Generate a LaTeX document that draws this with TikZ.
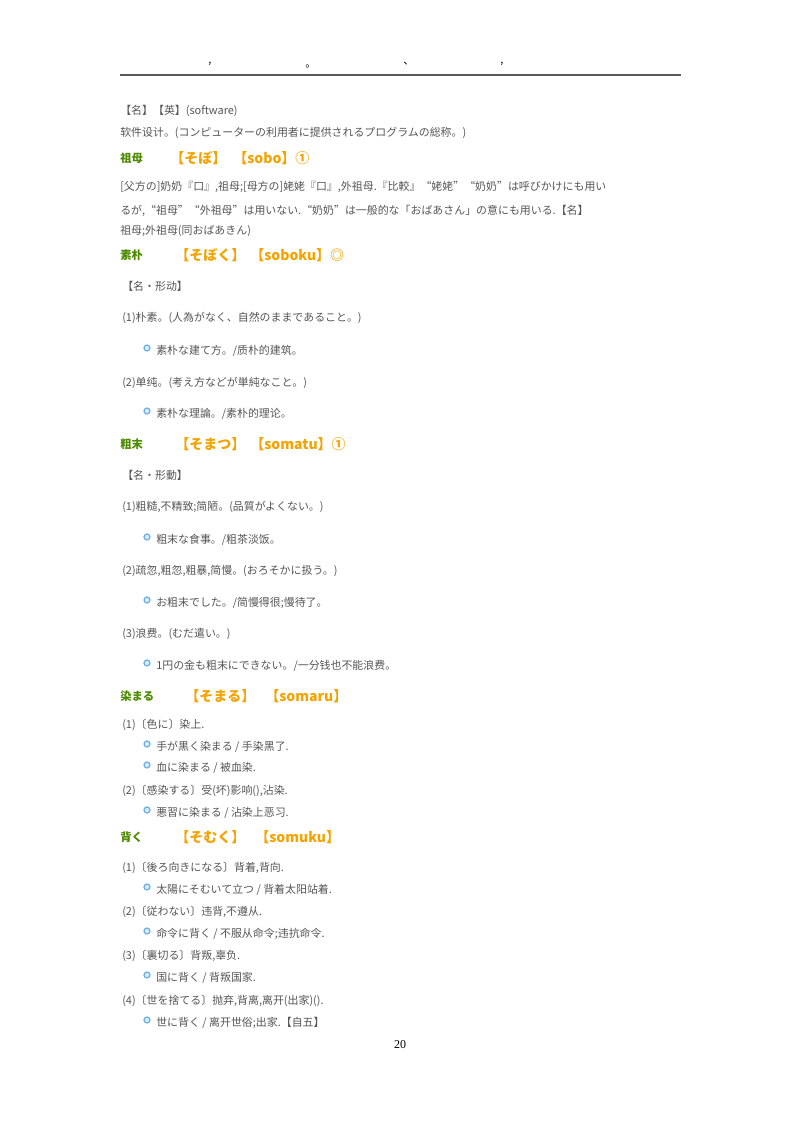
\documentclass[tikz,border=0pt]{standalone}
\usepackage{fontspec}
\setmainfont{Noto Sans CJK SC}
\newfontfamily\serifnum{Liberation Serif}
\definecolor{txt}{HTML}{555555}
\definecolor{hw}{HTML}{4E8A00}
\definecolor{kana}{HTML}{F5A300}
\definecolor{bul}{HTML}{6AB0E8}
\tikzset{
 body/.style={anchor=west,inner sep=0pt,text=txt,font=\fontsize{8.2}{10}\selectfont},
 hword/.style={anchor=west,inner sep=0pt,text=hw,font=\fontsize{8.5}{10}\selectfont\bfseries},
 reading/.style={anchor=west,inner sep=0pt,text=kana,font=\fontsize{10.5}{12}\selectfont\bfseries},
 dot/.style={circle,draw=bul,fill=bul!25,line width=0.9pt,minimum size=4.5pt,inner sep=0pt},
}
\begin{document}
\begin{tikzpicture}[x=0.75pt,y=-0.75pt]
\useasboundingbox (0,0) rectangle (800,1132);
\fill[white] (0,0) rectangle (800,1132);
% header
\coordinate (rl) at (120,75); \coordinate (rr) at (681,75);
\draw[line width=1pt,black!65] (rl) -- (rr);
\node[body,text=black] (h1) at (208,64) {,};
\node[body,text=black] (h2) at (305,66) {。};
\node[body,text=black] (h3) at (403,64) {、};
\node[body,text=black] (h4) at (500,64) {,};
% entries
\node[body] (a1) at (120,111) {【名】【英】(software)};
\node[body] (a2) at (120,133) {软件设计。(コンピューターの利用者に提供されるプログラムの総称。)};
\node[hword] (s1) at (120,158) {祖母};
\node[reading] (s1r) at (170,158) {【そぼ】};
\node[reading] (s1s) at (233,158) {【sobo】①};
\node[body] (b1) at (120,187) {[父方の]奶奶『口』,祖母;[母方の]姥姥『口』,外祖母.『比較』“姥姥”“奶奶”は呼びかけにも用い};
\node[body] (b2) at (120,211) {るが,“祖母”“外祖母”は用いない.“奶奶”は一般的な「おばあさん」の意にも用いる.【名】};
\node[body] (b3) at (120,231) {祖母;外祖母(同おばあきん)};
\node[hword] (s2) at (120,255) {素朴};
\node[reading] (s2r) at (175,255) {【そぼく】};
\node[reading] (s2s) at (250,255) {【soboku】◎};
\node[body] (c1) at (122,286) {【名・形动】};
\node[body] (c2) at (122,318) {(1)朴素。(人為がなく、自然のままであること。)};
\node[dot] (d1) at (147,348) {}; \node[body] (c3) at (156,351) {素朴な建て方。/质朴的建筑。};
\node[body] (c4) at (122,383) {(2)单纯。(考え方などが単純なこと。)};
\node[dot] (d2) at (147,411) {}; \node[body] (c5) at (156,414) {素朴な理論。/素朴的理论。};
\node[hword] (s3) at (120,444) {粗末};
\node[reading] (s3r) at (175,444) {【そまつ】};
\node[reading] (s3s) at (250,444) {【somatu】①};
\node[body] (e1) at (122,475) {【名·形動】};
\node[body] (e2) at (122,507) {(1)粗糙,不精致;简陋。(品質がよくない。)};
\node[dot] (d3) at (147,537) {}; \node[body] (e3) at (156,540) {粗末な食事。/粗茶淡饭。};
\node[body] (e4) at (122,571) {(2)疏忽,粗忽,粗暴,简慢。(おろそかに扱う。)};
\node[dot] (d4) at (147,600) {}; \node[body] (e5) at (156,603) {お粗末でした。/简慢得很;慢待了。};
\node[body] (e6) at (122,634) {(3)浪费。(むだ遣い。)};
\node[dot] (d5) at (147,663) {}; \node[body] (e7) at (156,666) {1円の金も粗末にできない。/一分钱也不能浪费。};
\node[hword] (s4) at (120,696) {染まる};
\node[reading] (s4r) at (185,696) {【そまる】};
\node[reading] (s4s) at (265,696) {【somaru】};
\node[body] (f1) at (122,725) {(1)〔色に〕染上.};
\node[dot] (d6) at (147,744) {}; \node[body] (f2) at (156,747) {手が黒く染まる / 手染黑了.};
\node[dot] (d7) at (147,765) {}; \node[body] (f3) at (156,768) {血に染まる / 被血染.};
\node[body] (f4) at (122,791) {(2)〔感染する〕受(坏)影响(),沾染.};
\node[dot] (d8) at (147,810) {}; \node[body] (f5) at (156,813) {悪習に染まる / 沾染上恶习.};
\node[hword] (s5) at (120,837) {背く};
\node[reading] (s5r) at (175,837) {【そむく】};
\node[reading] (s5s) at (255,837) {【somuku】};
\node[body] (g1) at (122,868) {(1)〔後ろ向きになる〕背着,背向.};
\node[dot] (d9) at (147,887) {}; \node[body] (g2) at (156,890) {太陽にそむいて立つ / 背着太阳站着.};
\node[body] (g3) at (122,912) {(2)〔従わない〕违背,不遵从.};
\node[dot] (d10) at (147,931) {}; \node[body] (g4) at (156,934) {命令に背く / 不服从命令;违抗命令.};
\node[body] (g5) at (122,956) {(3)〔裏切る〕背叛,辜负.};
\node[dot] (d11) at (147,975) {}; \node[body] (g6) at (156,978) {国に背く / 背叛国家.};
\node[body] (g7) at (122,1001) {(4)〔世を捨てる〕抛弃,背离,离开(出家)().};
\node[dot] (d12) at (147,1020) {}; \node[body] (g8) at (156,1023) {世に背く / 离开世俗;出家.【自五】};
\node[anchor=center,inner sep=0pt,font=\serifnum\fontsize{9}{10}\selectfont] (pg) at (400,1045) {20};
\end{tikzpicture}
\end{document}
